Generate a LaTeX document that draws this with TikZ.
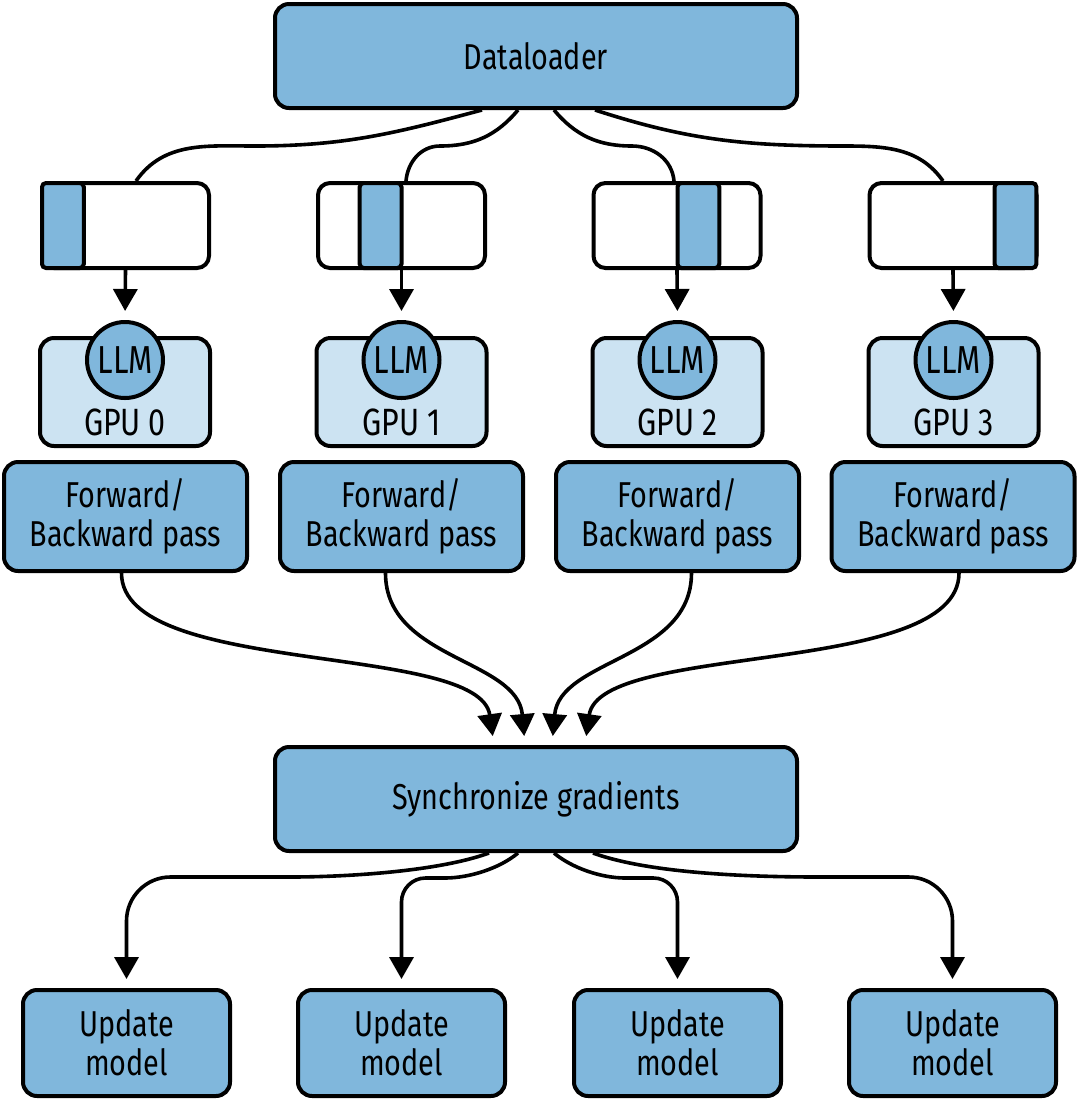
\documentclass[tikz,border=0pt]{standalone}
\usepackage{fontspec}
\setmainfont[FakeStretch=0.8]{Fira Sans}
\usetikzlibrary{arrows.meta}
\definecolor{boxblue}{RGB}{128,183,220}
\definecolor{gpublue}{RGB}{204,227,242}

\begin{document}
\begin{tikzpicture}[x=0.5pt,y=-0.5pt,
		font=\fontsize{18}{19.5}\selectfont,
		>={Triangle[length=11pt,width=12pt]},
		bigbox/.style={draw,line width=2pt,rounded corners=7pt,fill=boxblue,inner sep=0pt,minimum width=261pt,minimum height=52pt},
		passbox/.style={draw,line width=2pt,rounded corners=7pt,fill=boxblue,inner sep=0pt,align=center,minimum width=121.5pt,minimum height=54.5pt},
		updbox/.style={draw,line width=2pt,rounded corners=7pt,fill=boxblue,inner sep=0pt,align=center,minimum width=103.5pt,minimum height=53pt},
		databox/.style={draw,line width=2pt,rounded corners=6pt,fill=white,inner sep=0pt,minimum width=83.5pt,minimum height=42.5pt},
		slice/.style={draw,line width=2pt,rounded corners=2pt,fill=boxblue,inner sep=0pt,minimum width=20.9pt,minimum height=42.5pt},
		gpubox/.style={draw,line width=2pt,rounded corners=7pt,fill=gpublue,inner sep=0pt,minimum width=85pt,minimum height=54pt},
		llm/.style={draw,circle,line width=2pt,fill=boxblue,inner sep=0pt,minimum size=38pt,font=\fontsize{19.5}{20}\selectfont},
		gputext/.style={font=\fontsize{19}{20}\selectfont},
		conn/.style={line width=1.8pt},
		arr/.style={conn,->,shorten >=4.5pt}]
		\useasboundingbox (0,0) rectangle (1079,1100);
		
		\node[bigbox](dl)at(536,56) {Dataloader};
		
		% data batches
		\node[databox](d0)at(125.5,225.5) {};
		\node[databox](d1)at(401.5,225.5) {};
		\node[databox](d2)at(677,225.5) {};
		\node[databox](d3)at(953,225.5) {};
		\node[slice](s0)at(62.9,225.5) {};
		\node[slice](s1)at(380.6,225.5) {};
		\node[slice](s2)at(698.4,225.5) {};
		\node[slice](s3)at(1015.5,225.5) {};
		
		% GPUs
		\node[gpubox](g0)at(125,392) {};
		\node[gpubox](g1)at(401.5,392) {};
		\node[gpubox](g2)at(677.5,392) {};
		\node[gpubox](g3)at(953.5,392) {};
		\node[llm](l0)at(125,360) {LLM};
		\node[llm](l1)at(401.5,360) {LLM};
		\node[llm](l2)at(677.5,360) {LLM};
		\node[llm](l3)at(953.5,360) {LLM};
		\node[gputext](t0)at(125,422) {GPU 0};
		\node[gputext](t1)at(401.5,422) {GPU 1};
		\node[gputext](t2)at(677.5,422) {GPU 2};
		\node[gputext](t3)at(953.5,422) {GPU 3};
		
		\node[passbox](f0)at(125.5,516.5) {Forward/\\Backward pass};
		\node[passbox](f1)at(401.5,516.5) {Forward/\\Backward pass};
		\node[passbox](f2)at(677.5,516.5) {Forward/\\Backward pass};
		\node[passbox](f3)at(953,516.5) {Forward/\\Backward pass};
		
		\node[bigbox](sync)at(536,799) {Synchronize gradients};
		
		\node[updbox](u0)at(126.5,1043) {Update\\model};
		\node[updbox](u1)at(401.5,1043) {Update\\model};
		\node[updbox](u2)at(677.5,1043) {Update\\model};
		\node[updbox](u3)at(952.5,1043) {Update\\model};
		
		% split the data
		\draw[conn]([xshift=-27pt]dl.south) to[out=-165,in=0] (255,146) to[out=180,in=55] ([xshift=5.25pt]d0.north);
		\draw[conn]([xshift=-9pt]dl.south) to[out=-130,in=0] (440,146) to[out=180,in=85] ([xshift=2.25pt]d1.north);
		\draw[conn]([xshift=9pt]dl.south) to[out=-50,in=180] (632,146) to[out=0,in=95] ([xshift=-1.5pt]d2.north);
		\draw[conn]([xshift=29.5pt]dl.south) to[out=-18,in=180] (845,146) to[out=0,in=125] ([xshift=-5pt]d3.north);
		
		\draw[arr](d0.south) -- (l0.north);
		\draw[arr](d1.south) -- (l1.north);
		\draw[arr](d2.south) -- (l2.north);
		\draw[arr](d3.south) -- (l3.north);
		
		\draw[arr]([xshift=-2pt]f0.south) to[out=-90,in=98,looseness=0.65] ([xshift=-21pt]sync.north);
		\draw[arr]([xshift=-8pt]f1.south) to[out=-90,in=95] ([xshift=-5.5pt]sync.north);
		\draw[arr]([xshift=7pt]f2.south) to[out=-90,in=85] ([xshift=8pt]sync.north);
		\draw[arr]([xshift=3pt]f3.south) to[out=-90,in=82,looseness=0.65] ([xshift=24.5pt]sync.north);
		
		\draw[arr]([xshift=-23.5pt]sync.south) to[out=-160,in=0,looseness=0.7] (290,877) {[rounded corners=22pt] -| (u0.north)};
		\draw[arr]([xshift=-9pt]sync.south) to[out=-140,in=0,looseness=0.8] (445,878) {[rounded corners=12pt] -| (u1.north)};
		\draw[arr]([xshift=9pt]sync.south) to[out=-40,in=180,looseness=0.8] (625,878) {[rounded corners=12pt] -| (u2.north)};
		\draw[arr]([xshift=28.5pt]sync.south) to[out=-20,in=180,looseness=0.7] (820,877) {[rounded corners=22pt] -| (u3.north)};
	\end{tikzpicture}
\end{document}
